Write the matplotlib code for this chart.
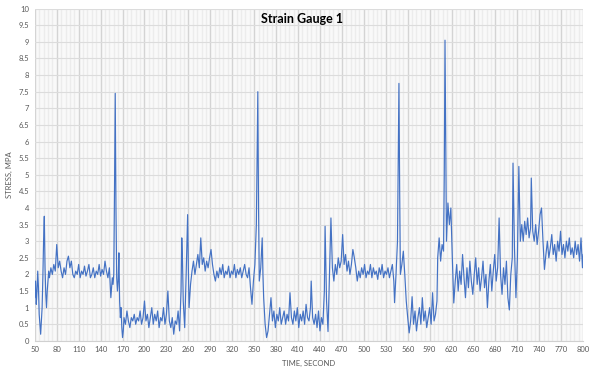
import matplotlib.pyplot as plt
import numpy as np

plt.rcParams['font.family'] = ['Lato', 'DejaVu Sans']

# time (s) and stress (MPa)
time_s = [
    50, 51, 52, 53, 54, 55, 56, 57, 58, 59, 60, 61, 62, 63, 64, 65, 66, 67, 68, 69, 70,
    72, 74, 76, 78, 80, 82, 84, 86, 88, 90, 92, 94, 96, 98, 100, 102, 104, 106, 108, 110,
    112, 114, 116, 118, 120, 122, 124, 126, 128, 130, 132, 134, 136, 138, 140, 142, 144,
    146, 148, 150, 152, 154, 156, 157, 158, 159, 160, 161, 162, 163, 164, 165, 166, 167,
    168, 169, 170, 171,
    172, 174, 176, 178, 180, 182, 184, 186, 188, 190, 192, 194, 196, 198, 200, 202, 204,
    206, 208, 210, 212, 214, 216, 218, 220, 222, 224, 226, 228, 230, 232, 234, 236, 238,
    240, 242, 244, 246, 248, 250, 251, 252, 253, 255, 257, 259, 260, 261, 263, 265,
    267, 269, 271, 273, 275, 277, 279, 281, 283, 285, 287, 289, 291, 293, 295, 297, 299,
    301, 303, 305, 307, 309, 311, 313, 315, 317, 319, 321, 323, 325, 327, 329, 331, 333,
    335, 337, 339, 341, 343, 345, 347, 349, 351, 353, 355, 356, 357, 359, 361, 362, 363,
    365, 367, 369,
    371, 373, 375, 377, 379, 381, 383, 385, 387, 389, 391, 393, 395, 397, 399, 401, 403,
    405, 407, 409, 411, 413, 415, 417, 419, 421, 423, 425, 427, 428, 430, 432, 434, 436,
    438, 440, 442, 444, 446, 447, 449, 451, 453, 455, 457, 459,
    461, 463, 465, 467, 469, 471, 473, 475, 477, 479, 481, 483, 485, 487, 489, 491, 493,
    495, 497, 499, 501, 503, 505, 507, 509, 511, 513, 515, 517, 519, 521, 523, 525, 527,
    529, 531, 533, 535, 537, 539, 541, 542, 544, 546, 548, 549, 550, 552, 554, 556, 558,
    560, 562,
    564, 566, 568, 570, 572, 574, 576, 578, 580, 582, 584, 586, 588, 590, 592, 594, 596,
    598, 600, 601, 603, 605, 607, 609, 610, 611, 612, 613, 615, 617, 619, 621, 623,
    625, 627, 629, 631, 633, 635, 637, 639, 641, 643, 645, 647, 649, 651, 653, 655, 657,
    659, 661, 663, 665, 667, 669, 671, 673, 675, 677, 679, 681, 683, 685, 687, 689, 691,
    693, 695, 697, 699, 701, 703, 704, 706, 708, 710, 712, 714,
    716, 718, 720, 722, 724, 726, 728, 729, 731, 733, 735, 737, 739, 741, 743, 745, 747,
    749, 751, 753, 755, 757, 759, 761, 763, 765, 767, 769, 771, 773, 775, 777, 779, 781,
    783, 785, 787, 789, 791, 793, 795, 797, 799, 800,
]
stress_mpa = [
    1.3, 1.8, 1.1, 1.5, 2.1, 1.6, 0.8, 0.5, 0.2, 0.6, 1.0, 1.9, 3.0, 3.75, 2.2, 1.4, 1.0, 1.5, 1.8, 2.1, 1.9,
    2.2, 2.0, 2.3, 2.1, 2.9, 2.2, 2.4, 2.1, 1.9, 2.2, 2.0, 2.4, 2.55, 2.2, 2.4, 2.0, 1.9, 2.1, 2.0, 2.3,
    1.9, 2.1, 2.0, 2.25, 1.95, 2.1, 2.3, 1.9, 2.0, 2.2, 1.9, 2.1, 2.0, 2.3, 1.95, 2.15, 2.0,
    2.4, 2.1, 1.9, 2.2, 1.3, 1.9, 1.7, 2.0, 4.5, 7.45, 4.0, 1.9, 1.5, 1.8, 2.65, 1.2, 0.7,
    1.0, 0.4, 0.1, 0.3,
    0.7, 0.5, 0.9, 0.6, 0.4, 0.7, 0.6, 0.8, 0.5, 0.7, 0.6, 0.9, 0.5, 0.7, 1.2, 0.6, 0.8,
    0.4, 0.7, 1.0, 0.5, 0.8, 0.6, 0.9, 0.4, 0.7, 0.6, 1.0, 0.5, 0.8, 1.5, 0.6, 0.4, 0.7,
    0.2, 0.6, 0.5, 0.9, 0.3, 1.5, 3.1, 2.4, 1.2, 0.4, 2.0, 3.8, 2.2, 1.0, 1.7, 2.1,
    2.4, 2.0, 2.3, 2.6, 2.2, 3.1, 2.3, 2.5, 2.1, 2.4, 2.2, 2.5, 2.75, 2.3, 2.0, 1.8, 2.1,
    1.9, 2.2, 2.0, 2.3, 1.9, 2.1, 2.0, 2.25, 1.9, 2.1, 2.0, 2.3, 1.9, 2.15, 2.0, 2.2, 1.9,
    2.1, 2.3, 2.0, 1.9, 2.2, 1.6, 1.1, 1.8, 2.3, 3.5, 7.5, 4.0, 1.8, 2.2, 3.1, 2.0, 1.3,
    0.5, 0.1, 0.3,
    0.8, 1.3, 0.6, 0.9, 0.4, 0.8, 0.6, 1.0, 0.5, 0.7, 0.9, 0.5, 0.8, 0.6, 1.45, 0.7, 0.5,
    0.9, 0.6, 1.0, 0.4, 0.8, 0.6, 0.9, 0.5, 1.1, 0.7, 0.6, 1.0, 1.8, 0.7, 0.5, 0.8, 0.4,
    0.9, 0.3, 0.7, 0.5, 1.5, 3.45, 1.2, 0.28, 2.0, 3.7, 2.2, 1.8,
    2.3, 2.0, 2.5, 2.2, 2.4, 3.2, 2.3, 2.6, 2.1, 2.4, 2.0, 2.3, 2.75, 2.5, 2.2, 1.8, 2.1,
    1.9, 2.2, 2.0, 2.3, 1.9, 2.1, 2.0, 2.3, 1.9, 2.2, 2.0, 2.1, 1.85, 2.2, 2.0, 2.3, 1.9,
    2.1, 2.0, 2.2, 1.9, 2.1, 2.3, 1.8, 1.15, 2.0, 3.0, 7.75, 4.5, 2.0, 2.3, 2.7, 2.0, 1.2,
    0.7, 0.24,
    0.6, 1.33, 0.5, 0.9, 0.3, 0.7, 1.0, 0.5, 1.3, 0.6, 0.9, 0.4, 0.7, 1.0, 0.5, 1.45, 0.6,
    0.8, 1.2, 2.5, 3.1, 2.4, 2.9, 2.7, 5.0, 9.05, 6.0, 3.0, 4.15, 3.5, 4.0, 2.5, 1.14,
    1.8, 2.3, 1.5, 2.1, 1.7, 2.6, 1.9, 1.3, 2.2, 1.6, 2.4, 1.8, 1.4, 2.0, 2.5, 1.7, 2.2,
    1.5, 1.9, 2.4, 1.6, 2.0, 1.0, 1.8, 2.3, 1.5, 2.1, 2.6, 1.8, 2.2, 3.7, 2.0, 1.4, 2.2,
    1.7, 2.4, 1.3, 0.93, 2.0, 2.5, 5.35, 2.8, 1.3, 2.5, 5.25, 3.0,
    3.5, 3.0, 3.6, 3.2, 3.7, 3.1, 3.4, 4.9, 3.3, 3.0, 3.5, 2.9, 3.3, 3.8, 4.0, 3.0, 2.15,
    2.6, 3.0, 2.5, 2.8, 3.2, 2.6, 2.9, 2.4, 3.0, 2.7, 3.3, 2.6, 2.9, 2.5, 3.0, 2.7, 3.1,
    2.6, 2.8, 2.5, 3.0, 2.6, 2.9, 2.4, 3.1, 2.2, 2.6,
]
x_ticks = list(range(50, 801, 30))
y_ticks = [i / 2 for i in range(0, 21)]

fig = plt.figure(figsize=(6, 3.75), dpi=100)
ax = fig.add_axes([0.058, 0.091, 0.914, 0.886])

ax.plot(time_s, stress_mpa, color='#4472c4', linewidth=0.85)

ax.set_xlim(50, 800)
ax.set_ylim(0, 10)
ax.set_xticks(x_ticks)
ax.set_xticks(np.arange(50, 801, 6), minor=True)
ax.set_yticks(y_ticks)
ax.set_yticklabels([f'{v:g}' for v in y_ticks])

ax.grid(which='major', axis='x', color='#d4d4d4', linewidth=1.0)
ax.grid(which='minor', axis='x', color='#ececec', linewidth=1.0)
ax.grid(which='major', axis='y', color='#dcdcdc', linewidth=0.8)
ax.set_axisbelow(True)
ax.set_facecolor('#f9f9f9')

for s in ['top', 'right', 'left']:
    ax.spines[s].set_visible(False)
ax.spines['bottom'].set_color('#d0d0d0')
ax.tick_params(which='both', length=0, labelsize=5.5, colors='#595959', pad=4)

ax.set_xlabel('TIME, SECOND', fontsize=5.5, color='#595959', labelpad=5)
ax.set_ylabel('STRESS, MPA', fontsize=5.5, color='#595959', labelpad=4)
ax.text(0.487, 0.97, 'Strain Gauge 1', transform=ax.transAxes, ha='center',
        va='center', fontsize=9, fontweight='bold', color='black')

fig.savefig('out.png', dpi=100)
